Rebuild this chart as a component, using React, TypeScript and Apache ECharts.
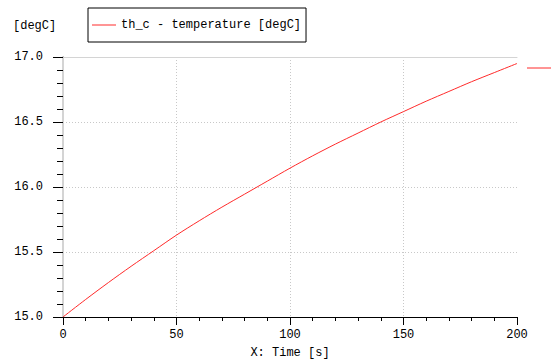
import React, { useEffect, useRef } from "react";
import * as echarts from "echarts";

const seriesName = "th_c - temperature [degC]";
const timeS = [0, 10, 20, 30, 40, 50, 60, 70, 80, 90, 100, 110, 120, 130, 140, 150, 160, 170, 180, 190, 200];
const tempC = [15.0, 15.135, 15.265, 15.39, 15.51, 15.63, 15.74, 15.845, 15.945, 16.045, 16.145, 16.24, 16.33, 16.415, 16.5, 16.58, 16.66, 16.735, 16.81, 16.88, 16.95];
const yUnit = "[degC]";
const xName = "X: Time [s]";

const FONT = "'Liberation Mono', 'DejaVu Sans Mono', monospace";
const RED = "#ff2a2a";

export default function App() {
  const ref = useRef<HTMLDivElement>(null);
  useEffect(() => {
    if (!ref.current) return;
    const chart = echarts.init(ref.current, undefined, { renderer: "svg" });
    const data = timeS.map((t, i) => [t, tempC[i]]);
    chart.setOption({
      animation: false,
      backgroundColor: "#ffffff",
      grid: { left: 63, right: 36, top: 57, bottom: 45, containLabel: false },
      legend: {
        data: [{ name: seriesName, icon: "rect" }],
        left: 88,
        top: 8,
        borderColor: "#000",
        borderWidth: 1,
        padding: [10, 5, 10, 4],
        itemWidth: 24,
        itemHeight: 1,
        itemStyle: { color: RED },
        textStyle: { fontFamily: FONT, fontSize: 12, color: "#000", lineHeight: 14 },
      },
      xAxis: [
        {
          type: "value",
          min: 0,
          max: 200,
          interval: 50,
          name: xName,
          nameLocation: "middle",
          nameGap: 30,
          nameTextStyle: { fontFamily: FONT, fontSize: 12, color: "#000", verticalAlign: "top" },
          axisLine: { show: true, lineStyle: { color: "#000", width: 1 } },
          axisTick: { show: true, length: 8, lineStyle: { color: "#000" } },
          minorTick: { show: true, splitNumber: 5, length: 4, lineStyle: { color: "#000" } },
          axisLabel: { fontFamily: FONT, fontSize: 12, color: "#000", margin: 12 },
          splitLine: {
            show: true,
            showMinLine: false,
            showMaxLine: false,
            lineStyle: { color: "#c8c8c8", type: [1, 2], width: 1 },
          },
        },
        {
          type: "value",
          position: "top",
          min: 0,
          max: 200,
          axisLine: { show: true, lineStyle: { color: "#d4d4d4", width: 1 } },
          axisTick: { show: false },
          axisLabel: { show: false },
          splitLine: { show: false },
        },
      ],
      yAxis: [
        {
          type: "value",
          min: 15,
          max: 17,
          interval: 0.5,
          axisLine: { show: true, lineStyle: { color: "#000", width: 1 } },
          axisTick: { show: true, length: 10, lineStyle: { color: "#000" } },
          minorTick: { show: true, splitNumber: 5, length: 6, lineStyle: { color: "#000" } },
          axisLabel: {
            fontFamily: FONT,
            fontSize: 12,
            color: "#000",
            margin: 20,
            formatter: (v: number) => v.toFixed(1),
          },
          splitLine: {
            show: true,
            showMinLine: false,
            showMaxLine: false,
            lineStyle: { color: "#c8c8c8", type: [1, 2], width: 1 },
          },
        },
        {
          type: "value",
          position: "right",
          min: 15,
          max: 17,
          axisLine: { show: true, lineStyle: { color: "#d4d4d4", width: 2 } },
          axisTick: { show: false },
          axisLabel: { show: false },
          splitLine: { show: false },
        },
      ],
      graphic: [
        {
          type: "text",
          left: 13,
          top: 20,
          style: { text: yUnit, font: `12px ${FONT}`, fill: "#000" },
        },
        {
          type: "line",
          shape: { x1: 527, y1: 68, x2: 551, y2: 68 },
          style: { stroke: RED, lineWidth: 1 },
        },
      ],
      series: [
        {
          name: seriesName,
          type: "line",
          xAxisIndex: 0,
          yAxisIndex: 0,
          data,
          symbol: "none",
          smooth: 0.3,
          lineStyle: { color: RED, width: 1 },
          itemStyle: { color: RED },
        },
      ],
    });
    return () => chart.dispose();
  }, []);
  return (
    <div
      ref={ref}
      style={{ position: "fixed", left: 0, top: 0, width: 553, height: 364 }}
    />
  );
}
